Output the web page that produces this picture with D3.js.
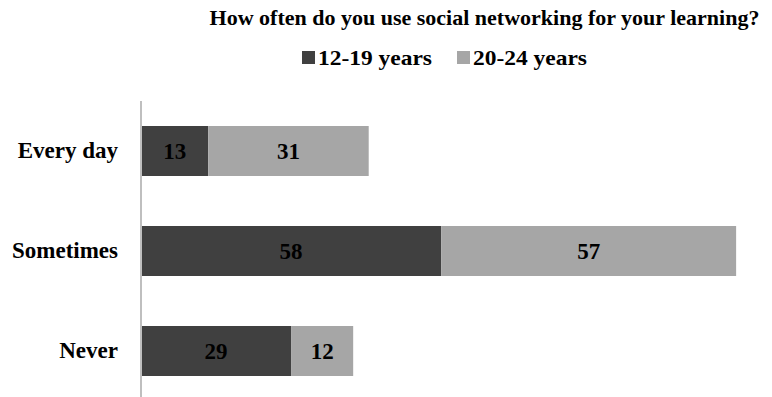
<!DOCTYPE html>
<html>
<head>
<meta charset="utf-8">
<script src="https://cdn.jsdelivr.net/npm/d3@7"></script>
<style>
  html, body { margin: 0; padding: 0; background: #fff; }
  svg { display: block; }
  text { font-family: "Liberation Serif", "Times New Roman", serif; font-weight: bold; fill: #000; }
</style>
</head>
<body>
<svg id="chart" width="772" height="397"></svg>
<script>
// Survey answers by age group
const categories = ["Every day", "Sometimes", "Never"];
const seriesNames = ["12-19 years", "20-24 years"];
const teens = [13, 58, 29];
const youngAdults = [31, 57, 12];
const colors = ["#404040", "#a6a6a6"];
const title = "How often do you use social networking for your learning?";

const svg = d3.select("#chart");
const W = 772, H = 397;

const x = d3.scaleLinear().domain([0, 120]).range([141, 141 + 120 * 5.175]);
const y = d3.scaleBand().domain(categories).range([101, 401]).paddingInner(0.5).paddingOuter(0.25);

const rows = categories.map((c, i) => ({ cat: c, a: teens[i], b: youngAdults[i] }));
const stacked = d3.stack().keys(["a", "b"])(rows);

// Title
svg.append("text")
  .attr("x", 484.5).attr("y", 25)
  .attr("text-anchor", "middle")
  .style("font-size", "22px")
  .text(title);

// Legend
const legendItems = [
  { name: seriesNames[0], color: colors[0], x: 302 },
  { name: seriesNames[1], color: colors[1], x: 457 }
];
const lg = svg.append("g");
legendItems.forEach(d => {
  lg.append("rect").attr("x", d.x).attr("y", 51).attr("width", 13).attr("height", 13).attr("fill", d.color);
  lg.append("text").attr("x", d.x + 16).attr("y", 65)
    .style("font-size", "22px")
    .attr("textLength", 114).attr("lengthAdjust", "spacingAndGlyphs")
    .text(d.name);
});

// Bars
const layers = svg.append("g").selectAll("g").data(stacked).join("g")
  .attr("fill", (d, i) => colors[i]);
layers.selectAll("rect").data(d => d).join("rect")
  .attr("x", d => x(d[0]))
  .attr("y", d => y(d.data.cat))
  .attr("width", d => x(d[1]) - x(d[0]))
  .attr("height", y.bandwidth());

// Value labels
const lbl = svg.append("g");
stacked.forEach(layer => {
  layer.forEach(d => {
    lbl.append("text")
      .attr("x", (x(d[0]) + x(d[1])) / 2)
      .attr("y", y(d.data.cat) + y.bandwidth() / 2)
      .attr("dy", "0.35em")
      .attr("text-anchor", "middle")
      .style("font-size", "23px")
      .text(d[1] - d[0]);
  });
});

// Category axis
const axis = svg.append("g").attr("transform", `translate(${x(0)},0)`)
  .call(d3.axisLeft(y).tickSize(0).tickPadding(23));
axis.select(".domain").attr("stroke", "#bfbfbf").attr("stroke-width", 2)
  .attr("d", `M0,101V${H}`);
axis.selectAll(".tick text")
  .style("font-size", "23px")
  .style("font-family", "'Liberation Serif', 'Times New Roman', serif")
  .style("font-weight", "bold")
  .attr("fill", "#000");
</script>
</body>
</html>
